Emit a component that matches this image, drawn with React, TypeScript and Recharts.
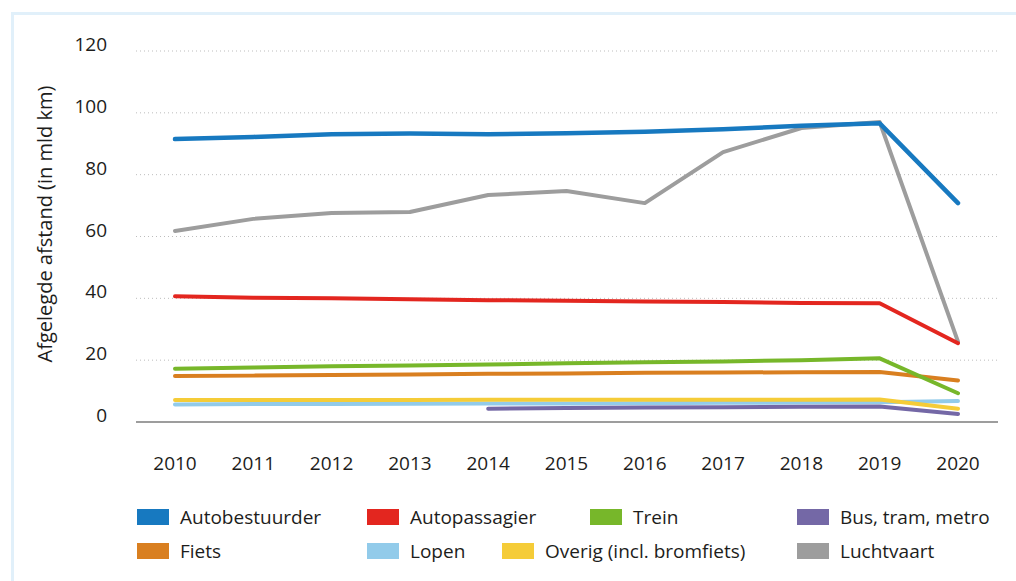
import React from 'react'
import { LineChart, Line, XAxis, YAxis, CartesianGrid } from 'recharts'

const years = ['2010', '2011', '2012', '2013', '2014', '2015', '2016', '2017', '2018', '2019', '2020']

const autobestuurder = [91.5, 92.2, 93.1, 93.3, 93.1, 93.4, 93.9, 94.7, 95.8, 96.6, 70.8]
const autopassagier = [40.7, 40.2, 40.0, 39.7, 39.4, 39.2, 39.0, 38.8, 38.5, 38.4, 25.5]
const trein = [17.2, 17.6, 18.0, 18.3, 18.6, 19.0, 19.3, 19.6, 20.0, 20.6, 9.3]
const bus = [null, null, null, null, 4.3, 4.5, 4.7, 4.8, 4.9, 5.0, 2.6]
const fiets = [14.9, 15.0, 15.2, 15.4, 15.6, 15.7, 15.9, 16.0, 16.1, 16.2, 13.4]
const lopen = [5.7, 5.8, 5.8, 5.9, 6.0, 6.0, 6.1, 6.2, 6.3, 6.4, 6.8]
const overig = [7.1, 7.1, 7.1, 7.1, 7.2, 7.2, 7.2, 7.2, 7.2, 7.3, 4.3]
const luchtvaart = [61.8, 65.7, 67.6, 67.9, 73.4, 74.7, 70.8, 87.3, 95.1, 97.0, 26.0]

const yTicks = [0, 20, 40, 60, 80, 100, 120]

const series = [
  { key: 'luchtvaart', name: 'Luchtvaart', color: '#9d9d9d', values: luchtvaart },
  { key: 'lopen', name: 'Lopen', color: '#92cbea', values: lopen },
  { key: 'overig', name: 'Overig (incl. bromfiets)', color: '#f5cc38', values: overig },
  { key: 'bus', name: 'Bus, tram, metro', color: '#7468a6', values: bus },
  { key: 'fiets', name: 'Fiets', color: '#d97f20', values: fiets },
  { key: 'trein', name: 'Trein', color: '#77b72a', values: trein },
  { key: 'autopassagier', name: 'Autopassagier', color: '#e3261f', values: autopassagier },
  { key: 'autobestuurder', name: 'Autobestuurder', color: '#1779c0', values: autobestuurder },
]

// legend order as in the figure, row by row
const legendRows = [
  ['autobestuurder', 'autopassagier', 'trein', 'bus'],
  ['fiets', 'lopen', 'overig', 'luchtvaart'],
]
const legendCols = [
  [137, 367, 590, 797],
  [137, 367, 502, 797],
]

const data = years.map((year, i) => {
  const row: Record<string, any> = { year }
  series.forEach((s) => {
    row[s.key] = s.values[i]
  })
  return row
})

const font = '"Open Sans", sans-serif'
const textColor = '#1d1d1b'

const YTick = ({ x, y, payload }: any) => (
  <text x={x - 29} y={y - 7} textAnchor="end" dominantBaseline="central" fontSize={19} fill={textColor} fontFamily={font}>
    {payload.value}
  </text>
)

const XTick = ({ x, y, payload }: any) => (
  <text x={x} y={y + 41} textAnchor="middle" dominantBaseline="central" fontSize={19} fill={textColor} fontFamily={font}>
    {payload.value}
  </text>
)

export default function App() {
  const byKey: Record<string, (typeof series)[number]> = {}
  series.forEach((s) => (byKey[s.key] = s))

  return (
    <div style={{ position: 'fixed', left: 0, top: 0, width: 1016, height: 581, background: '#fff', fontFamily: font }}>
      <div
        style={{
          position: 'absolute',
          left: 11,
          top: 12,
          right: 0,
          bottom: 0,
          borderLeft: '3px solid #e1f0fa',
          borderTop: '3px solid #e1f0fa',
        }}
      />
      <div style={{ position: 'absolute', left: 0, top: 0 }}>
        <LineChart width={1016} height={480} data={data} margin={{ top: 51, right: 18, bottom: 0, left: 0 }}>
          <CartesianGrid vertical={false} stroke="#bdbdbd" strokeDasharray="1 3" />
          <XAxis
            dataKey="year"
            height={58}
            padding={{ left: 39, right: 40 }}
            tickLine={false}
            tickSize={0}
            tickMargin={0}
            axisLine={{ stroke: '#9d9d9d', strokeWidth: 2 }}
            tick={<XTick />}
            interval={0}
          />
          <YAxis
            width={136}
            domain={[0, 120]}
            ticks={yTicks}
            axisLine={false}
            tickLine={false}
            tickSize={0}
            tickMargin={0}
            tick={<YTick />}
          />
          {series.map((s) => (
            <Line
              key={s.key}
              type="linear"
              dataKey={s.key}
              name={s.name}
              stroke={s.color}
              strokeWidth={s.key === 'autobestuurder' ? 4.5 : 4}
              strokeLinecap="round"
              strokeLinejoin="round"
              dot={false}
              activeDot={false}
              isAnimationActive={false}
            />
          ))}
        </LineChart>
      </div>
      <div
        style={{
          position: 'absolute',
          left: 44,
          top: 224,
          transform: 'translate(-50%, -50%) rotate(-90deg)',
          whiteSpace: 'nowrap',
          fontSize: 20,
          color: textColor,
        }}
      >
        Afgelegde afstand (in mld km)
      </div>
      {legendRows.map((row, r) =>
        row.map((key, c) => {
          const s = byKey[key]
          const left = legendCols[r][c]
          const top = r === 0 ? 509 : 543
          return (
            <div key={key} style={{ position: 'absolute', left, top, display: 'flex', alignItems: 'center', height: 16 }}>
              <div style={{ width: 32, height: 16, background: s.color }} />
              <span style={{ marginLeft: 11, fontSize: 19, color: textColor, whiteSpace: 'nowrap', lineHeight: '16px' }}>
                {s.name}
              </span>
            </div>
          )
        })
      )}
    </div>
  )
}
